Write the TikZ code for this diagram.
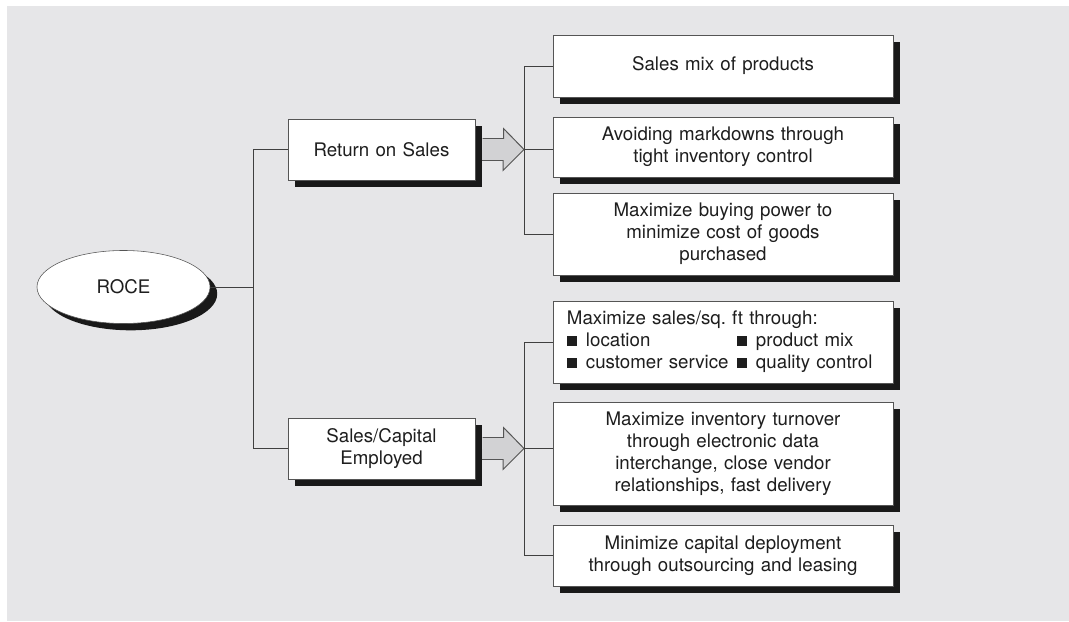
\documentclass[tikz,border=0pt]{standalone}
\usepackage{fontspec}
\setmainfont{TeX Gyre Heros}
\usetikzlibrary{shapes.geometric,shadows}
\definecolor{panel}{RGB}{230,230,232}
\definecolor{ink}{RGB}{30,30,30}
\definecolor{edge}{RGB}{85,85,85}
\definecolor{arrowfill}{RGB}{210,210,212}
\newcommand{\sqbul}{\rule[0.3pt]{7pt}{7pt}\hspace{6.5pt}}

\begin{document}
\begin{tikzpicture}[x=0.025cm, y=-0.025cm, font=\fontsize{13.3}{15.6}\selectfont, text=ink,
  dropped/.style={drop shadow={shadow xshift=0.18cm, shadow yshift=-0.17cm, fill=black!90, opacity=1}},
  mid/.style={draw=edge, fill=white, dropped, align=center, inner xsep=0.2cm, text width=4.275cm, minimum height=1.525cm},
  item/.style={draw=edge, fill=white, dropped, align=center, inner xsep=0.2cm, text width=8.1cm},
  link/.style={draw=ink!85, line width=0.7pt},
  fatarrow/.style={draw=edge, fill=arrowfill, line width=0.7pt, line join=miter}]
  \useasboundingbox (0,0) rectangle (1069,622);
  \fill[panel] (7,6) rectangle (1069,621);

  \node (roce) [ellipse, draw=edge, fill=white, dropped, inner sep=0pt, minimum width=4.325cm, minimum height=1.825cm] at (123.5,287) {ROCE};

  \node (ros) [mid] at (381.5,149.5) {Return on Sales};
  \node (sce) [mid] at (381.5,448.5) {Sales/Capital\\Employed};

  \node (mix) [item, minimum height=1.55cm] at (723,66) {Sales mix of products};
  \node (mark) [item, minimum height=1.5cm] at (723,147) {Avoiding markdowns through\\tight inventory control};
  \node (buy) [item, minimum height=2.05cm] at (723,234) {Maximize buying power to\\minimize cost of goods\\purchased};

  \node (sqft) [item, align=left, inner xsep=0.35cm, text width=7.8cm, minimum height=2.05cm] at (723,342) {%
    \begin{tabular}{@{}p{4.25cm}@{}l@{}}
      \multicolumn{2}{@{}l@{}}{Maximize sales/sq.\ ft through:}\\
      \sqbul location & \sqbul product mix\\
      \sqbul customer service & \sqbul quality control
    \end{tabular}};
  \node (turn) [item, minimum height=2.575cm] at (723,453.5) {Maximize inventory turnover\\through electronic data\\interchange, close vendor\\relationships, fast delivery};
  \node (cap) [item, minimum height=1.525cm] at (723,555.5) {Minimize capital deployment\\through outsourcing and leasing};

  \coordinate (jr) at (524,149.5);
  \coordinate (jc) at (524,448.5);

  \draw[link] (roce.east) -- ++(43,0) |- (ros.west);
  \draw[link] (roce.east) -- ++(43,0) |- (sce.west);

  \filldraw[fatarrow] ([xshift=0.18cm]ros.east) ++(0,-11) -- ++(21,0) -- ++(0,-10) -- (jr) -- ++(-21,21) -- ++(0,-10) -- ++(-21,0);
  \filldraw[fatarrow] ([xshift=0.18cm]sce.east) ++(0,-11) -- ++(21,0) -- ++(0,-10) -- (jc) -- ++(-21,21) -- ++(0,-10) -- ++(-21,0);

  \draw[link] (jr) |- (mix.west);
  \draw[link] (jr) -- (jr -| mark.west);
  \draw[link] (jr) |- (buy.west);
  \draw[link] (jc) |- (sqft.west);
  \draw[link] (jc) -- (jc -| turn.west);
  \draw[link] (jc) |- (cap.west);
\end{tikzpicture}
\end{document}
